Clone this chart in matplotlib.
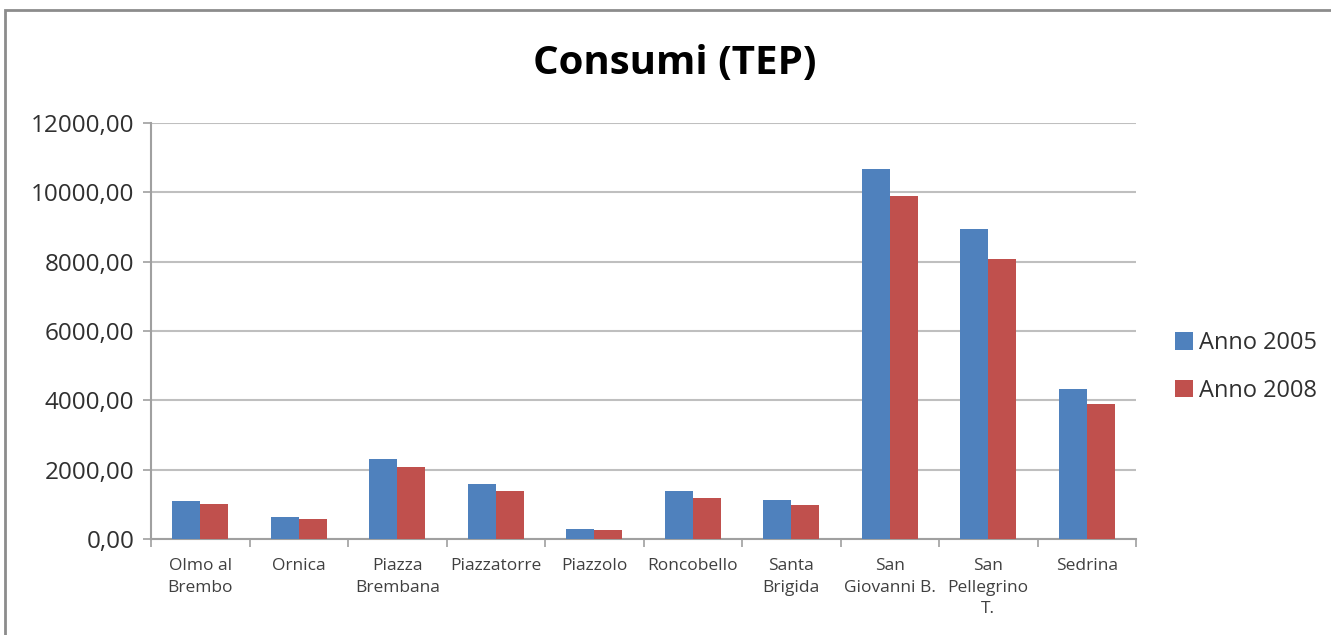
import matplotlib
matplotlib.use('Agg')
import matplotlib.pyplot as plt
import numpy as np
from matplotlib.patches import Rectangle
from matplotlib.ticker import FuncFormatter

# Dati (TEP)
comuni = ['Olmo al\nBrembo', 'Ornica', 'Piazza\nBrembana', 'Piazzatorre', 'Piazzolo',
          'Roncobello', 'Santa\nBrigida', 'San\nGiovanni B.', 'San\nPellegrino\nT.', 'Sedrina']
anno_2005 = [1110, 635, 2295, 1590, 300, 1380, 1118, 10675, 8940, 4330]
anno_2008 = [1010, 570, 2090, 1378, 270, 1185, 975, 9900, 8065, 3880]

plt.rcParams['font.family'] = ['Open Sans', 'DejaVu Sans']

fig = plt.figure(figsize=(13.31, 6.35), dpi=100)
ax = fig.add_axes([151 / 1331, (635 - 539) / 635, 985 / 1331, 416 / 635])

x = np.arange(len(comuni))
w = 0.285
ax.bar(x - w / 2, anno_2005, w, color='#4F81BD', label='Anno 2005', zorder=3)
ax.bar(x + w / 2, anno_2008, w, color='#C0504D', label='Anno 2008', zorder=3)

ax.set_xlim(-0.5, len(comuni) - 0.5)
ax.set_ylim(0, 12000)
ax.set_yticks(np.arange(0, 12001, 2000))
ax.yaxis.set_major_formatter(FuncFormatter(lambda v, p: f'{v:.2f}'.replace('.', ',')))
ax.grid(axis='y', color='#BFBFBF', linewidth=1.5, zorder=0)

ax.set_xticks(np.arange(-0.5, len(comuni) + 0.5, 1))
ax.set_xticklabels([])
ax.set_xticks(x, minor=True)
ax.set_xticklabels(comuni, minor=True, fontsize=12.5, color='#404040', linespacing=1.45)
ax.tick_params(axis='x', which='major', length=6, color='#A0A0A0', width=1.2)
ax.tick_params(axis='x', which='minor', length=0, pad=14)
ax.tick_params(axis='y', length=6, color='#A0A0A0', width=1.2, labelsize=17.5, labelcolor='#303030', pad=6)

for s in ['top', 'right']:
    ax.spines[s].set_visible(False)
for s in ['left', 'bottom']:
    ax.spines[s].set_color('#A0A0A0')
    ax.spines[s].set_linewidth(1.5)

fig.text(675 / 1331, 1 - 63 / 635, 'Consumi (TEP)', ha='center', va='center',
         fontsize=29, fontweight='bold', color='black')

fig.legend(loc='center left', bbox_to_anchor=(1154 / 1331, 1 - 367 / 635), frameon=False,
           fontsize=17, handlelength=0.75, handleheight=0.75, handletextpad=0.25,
           labelspacing=1.0, labelcolor='#303030')

# cornice del grafico
fig.patches.append(Rectangle((5 / 1331, -0.1), 1.2, 1 - 10 / 635 + 0.1,
                             transform=fig.transFigure, fill=False,
                             edgecolor='#8C8C8C', linewidth=2))

fig.savefig('out.png', dpi=100, facecolor='white')
